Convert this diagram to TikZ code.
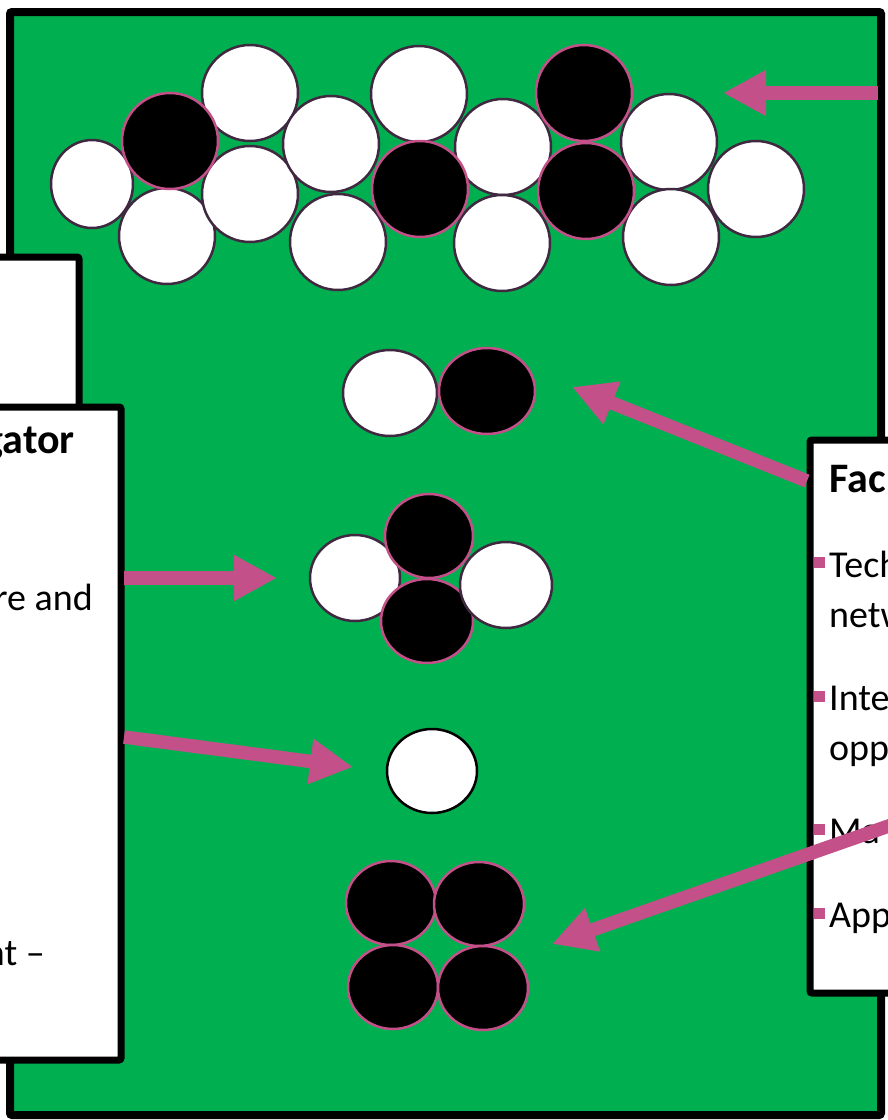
\documentclass[tikz,border=0pt]{standalone}
\usepackage{fontspec}
\setmainfont{Carlito}
\usetikzlibrary{arrows.meta,shapes.geometric}
\definecolor{bggreen}{RGB}{0,176,80}
\definecolor{pinkc}{RGB}{196,80,137}
\definecolor{ringc}{RGB}{64,40,64}
\begin{document}
\begin{tikzpicture}[x=1pt,y=-1pt,
  wc/.style={ellipse, draw=ringc, fill=white, line width=2.5pt, inner sep=0pt, outer sep=0pt, minimum width=96pt, minimum height=96pt},
  bc/.style={ellipse, draw=pinkc, fill=black, line width=2.5pt, inner sep=0pt, outer sep=0pt, minimum width=96pt, minimum height=96pt},
  panel/.style={rectangle, draw=black, fill=white, line width=7pt, rounded corners=2pt, inner sep=0pt, outer sep=0pt},
  arr/.style={draw=pinkc, line width=13.5pt, -{Triangle[length=43pt,width=43pt]}},
  bodytxt/.style={font=\fontsize{38}{46}\selectfont, inner sep=0pt, anchor=base west},
  bodyr/.style={font=\fontsize{38}{46}\selectfont, inner sep=0pt, anchor=base east},
  titletxt/.style={font=\fontsize{42}{50}\selectfont\bfseries, inner sep=0pt},
  bul/.style={rectangle, fill=pinkc, inner sep=0pt, minimum size=11pt}]
\useasboundingbox (0,0) rectangle (888,1120);
\clip (0,0) rectangle (888,1120);
% green board
\node[rectangle, draw=black, fill=bggreen, line width=8pt, inner sep=0pt, outer sep=0pt,
      minimum width=871pt, minimum height=1103pt, rounded corners=2pt] (board) at (445.5,563.5) {};
% top cluster
\node[wc, minimum width=82pt, minimum height=88pt] (w1) at (92,184) {};
\node[wc] (w2) at (250,93) {};
\node[wc] (w3) at (167,236) {};
\node[wc] (w4) at (250,194) {};
\node[wc] (w5) at (331,144) {};
\node[wc] (w6) at (338,242) {};
\node[wc] (w7) at (419,94) {};
\node[wc] (w8) at (503,147) {};
\node[wc] (w9) at (502,243) {};
\node[wc] (w10) at (669,142) {};
\node[wc] (w11) at (671,237) {};
\node[wc] (w12) at (756,189) {};
\node[bc] (b1) at (170,141) {};
\node[bc] (b2) at (420,189) {};
\node[bc] (b3) at (584,93) {};
\node[bc] (b4) at (586,191) {};
% pair
\node[wc, minimum width=94pt, minimum height=86pt] (pw) at (390,393) {};
\node[bc, minimum width=96pt, minimum height=86pt] (pb) at (487,391) {};
% cross
\node[wc, minimum width=90pt, minimum height=86pt] (cl) at (355,578) {};
\node[bc, minimum width=88pt, minimum height=84pt] (ct) at (429,536) {};
\node[bc, minimum width=92pt, minimum height=84pt] (cb) at (427,621) {};
\node[wc, minimum width=92pt, minimum height=86pt] (cr) at (506,585) {};
% single
\node[wc, draw=black, minimum width=90pt, minimum height=84pt] (sw) at (432,771) {};
% four black
\node[bc, minimum width=90pt, minimum height=84pt] (q1) at (391,903) {};
\node[bc, minimum width=90pt, minimum height=84pt] (q2) at (479,904) {};
\node[bc, minimum width=90pt, minimum height=84pt] (q3) at (393,987) {};
\node[bc, minimum width=90pt, minimum height=84pt] (q4) at (483,988) {};
% left panels
\node[panel, minimum width=119pt, minimum height=183pt] (lp1) at (19.5,348.5) {};
\node[panel, minimum width=161pt, minimum height=653pt] (lp2) at (40.5,733.5) {};
\node[titletxt, anchor=base east] (lt) at (75,453) {gator};
\node[bodyr] (l1) at (93,610) {re and};
\node[bodyr] (l2) at (45,965) {nt –};
% right panel
\node[panel, minimum width=130pt, minimum height=553pt] (rp) at (875,716.5) {};
\node[titletxt, anchor=base west] (rt) at (829,492) {Fac};
\node[bul] (u1) at (819.5,562) {};
\node[bodytxt] (r1) at (829,577) {Tech};
\node[bodytxt] (r2) at (829,627) {netw};
\node[bul] (u2) at (819.5,696) {};
\node[bodytxt] (r3) at (829,710) {Inte};
\node[bodytxt] (r4) at (829,760) {opp};
\node[bul] (u3) at (819.5,829) {};
\node[bodytxt] (r5) at (829,843) {Ma};
\node[bul] (u4) at (819.5,913) {};
\node[bodytxt] (r6) at (829,927) {App};
% arrow ends
\coordinate (a1s) at (878,93);
\coordinate (a1e) at (723,93);
\coordinate (a2s) at (807,481);
\coordinate (a2e) at (572,387);
\coordinate (a3s) at (124,578);
\coordinate (a3e) at (277,578);
\coordinate (a4s) at (124,737);
\coordinate (a4e) at (353,767);
\coordinate (a5s) at (900,822);
\coordinate (a5e) at (552,944);
\draw[arr] (a1s) -- (a1e);
\draw[arr] (a2s) -- (a2e);
\draw[arr] (a3s) -- (a3e);
\draw[arr] (a4s) -- (a4e);
\draw[arr] (a5s) -- (a5e);
\end{tikzpicture}
\end{document}
